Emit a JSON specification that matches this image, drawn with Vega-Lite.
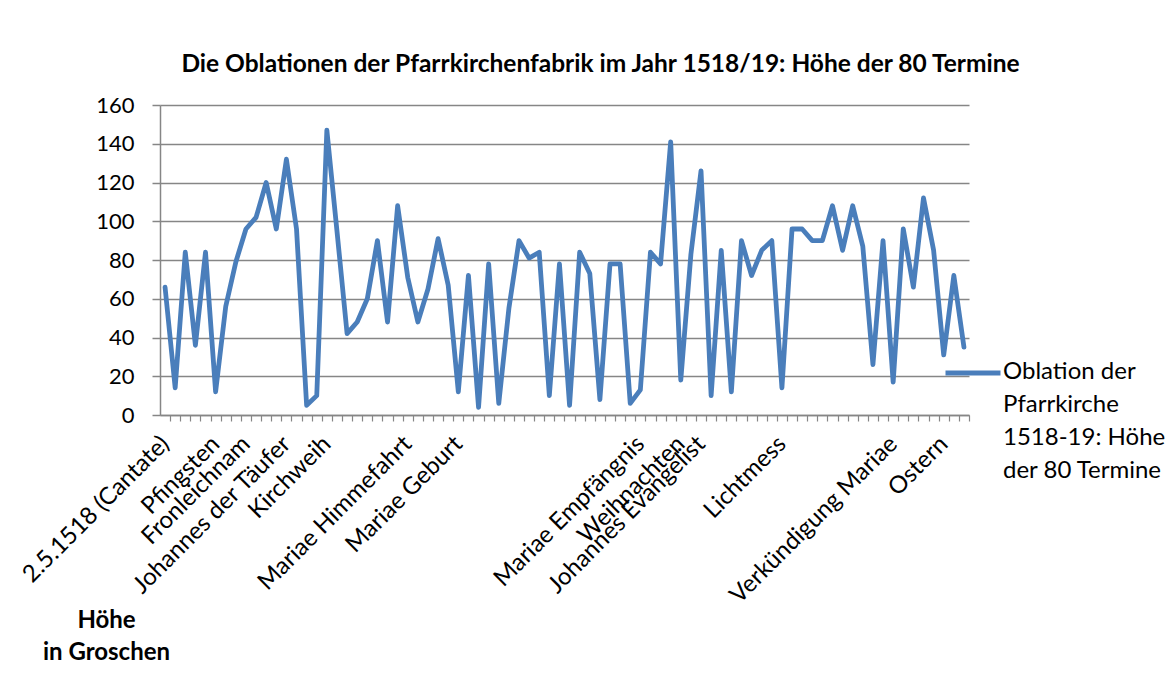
{
  "$schema": "https://vega.github.io/schema/vega-lite/v6.json",
  "width": 809,
  "height": 310,
  "autosize": {"type": "none"},
  "padding": {"left": 160, "top": 105, "right": 202, "bottom": 263},
  "background": "#ffffff",
  "config": {
    "font": "Lato",
    "view": {"stroke": null}
  },
  "title": {
    "text": "Die Oblationen der Pfarrkirchenfabrik im Jahr 1518/19: Höhe der 80 Termine",
    "font": "Lato",
    "fontSize": 24.5,
    "fontWeight": "bold",
    "color": "#000000",
    "anchor": "middle",
    "dx": 36,
    "offset": 17
  },
  "data": {
    "values": [
      {"nr": 1, "termin": "2.5.1518 (Cantate)", "oblation": 66, "reihe": "Oblation der|Pfarrkirche|1518-19: Höhe|der 80 Termine"},
      {"nr": 2, "termin": "#2", "oblation": 14, "reihe": "Oblation der|Pfarrkirche|1518-19: Höhe|der 80 Termine"},
      {"nr": 3, "termin": "#3", "oblation": 84, "reihe": "Oblation der|Pfarrkirche|1518-19: Höhe|der 80 Termine"},
      {"nr": 4, "termin": "#4", "oblation": 36, "reihe": "Oblation der|Pfarrkirche|1518-19: Höhe|der 80 Termine"},
      {"nr": 5, "termin": "#5", "oblation": 84, "reihe": "Oblation der|Pfarrkirche|1518-19: Höhe|der 80 Termine"},
      {"nr": 6, "termin": "Pfingsten", "oblation": 12, "reihe": "Oblation der|Pfarrkirche|1518-19: Höhe|der 80 Termine"},
      {"nr": 7, "termin": "#7", "oblation": 56, "reihe": "Oblation der|Pfarrkirche|1518-19: Höhe|der 80 Termine"},
      {"nr": 8, "termin": "#8", "oblation": 79, "reihe": "Oblation der|Pfarrkirche|1518-19: Höhe|der 80 Termine"},
      {"nr": 9, "termin": "Fronleichnam", "oblation": 96, "reihe": "Oblation der|Pfarrkirche|1518-19: Höhe|der 80 Termine"},
      {"nr": 10, "termin": "#10", "oblation": 102, "reihe": "Oblation der|Pfarrkirche|1518-19: Höhe|der 80 Termine"},
      {"nr": 11, "termin": "#11", "oblation": 120, "reihe": "Oblation der|Pfarrkirche|1518-19: Höhe|der 80 Termine"},
      {"nr": 12, "termin": "#12", "oblation": 96, "reihe": "Oblation der|Pfarrkirche|1518-19: Höhe|der 80 Termine"},
      {"nr": 13, "termin": "Johannes der Täufer", "oblation": 132, "reihe": "Oblation der|Pfarrkirche|1518-19: Höhe|der 80 Termine"},
      {"nr": 14, "termin": "#14", "oblation": 96, "reihe": "Oblation der|Pfarrkirche|1518-19: Höhe|der 80 Termine"},
      {"nr": 15, "termin": "#15", "oblation": 5, "reihe": "Oblation der|Pfarrkirche|1518-19: Höhe|der 80 Termine"},
      {"nr": 16, "termin": "#16", "oblation": 10, "reihe": "Oblation der|Pfarrkirche|1518-19: Höhe|der 80 Termine"},
      {"nr": 17, "termin": "Kirchweih", "oblation": 147, "reihe": "Oblation der|Pfarrkirche|1518-19: Höhe|der 80 Termine"},
      {"nr": 18, "termin": "#18", "oblation": 95, "reihe": "Oblation der|Pfarrkirche|1518-19: Höhe|der 80 Termine"},
      {"nr": 19, "termin": "#19", "oblation": 42, "reihe": "Oblation der|Pfarrkirche|1518-19: Höhe|der 80 Termine"},
      {"nr": 20, "termin": "#20", "oblation": 48, "reihe": "Oblation der|Pfarrkirche|1518-19: Höhe|der 80 Termine"},
      {"nr": 21, "termin": "#21", "oblation": 60, "reihe": "Oblation der|Pfarrkirche|1518-19: Höhe|der 80 Termine"},
      {"nr": 22, "termin": "#22", "oblation": 90, "reihe": "Oblation der|Pfarrkirche|1518-19: Höhe|der 80 Termine"},
      {"nr": 23, "termin": "#23", "oblation": 48, "reihe": "Oblation der|Pfarrkirche|1518-19: Höhe|der 80 Termine"},
      {"nr": 24, "termin": "#24", "oblation": 108, "reihe": "Oblation der|Pfarrkirche|1518-19: Höhe|der 80 Termine"},
      {"nr": 25, "termin": "Mariae Himmefahrt", "oblation": 71, "reihe": "Oblation der|Pfarrkirche|1518-19: Höhe|der 80 Termine"},
      {"nr": 26, "termin": "#26", "oblation": 48, "reihe": "Oblation der|Pfarrkirche|1518-19: Höhe|der 80 Termine"},
      {"nr": 27, "termin": "#27", "oblation": 65, "reihe": "Oblation der|Pfarrkirche|1518-19: Höhe|der 80 Termine"},
      {"nr": 28, "termin": "#28", "oblation": 91, "reihe": "Oblation der|Pfarrkirche|1518-19: Höhe|der 80 Termine"},
      {"nr": 29, "termin": "#29", "oblation": 67, "reihe": "Oblation der|Pfarrkirche|1518-19: Höhe|der 80 Termine"},
      {"nr": 30, "termin": "Mariae Geburt", "oblation": 12, "reihe": "Oblation der|Pfarrkirche|1518-19: Höhe|der 80 Termine"},
      {"nr": 31, "termin": "#31", "oblation": 72, "reihe": "Oblation der|Pfarrkirche|1518-19: Höhe|der 80 Termine"},
      {"nr": 32, "termin": "#32", "oblation": 4, "reihe": "Oblation der|Pfarrkirche|1518-19: Höhe|der 80 Termine"},
      {"nr": 33, "termin": "#33", "oblation": 78, "reihe": "Oblation der|Pfarrkirche|1518-19: Höhe|der 80 Termine"},
      {"nr": 34, "termin": "#34", "oblation": 6, "reihe": "Oblation der|Pfarrkirche|1518-19: Höhe|der 80 Termine"},
      {"nr": 35, "termin": "#35", "oblation": 55, "reihe": "Oblation der|Pfarrkirche|1518-19: Höhe|der 80 Termine"},
      {"nr": 36, "termin": "#36", "oblation": 90, "reihe": "Oblation der|Pfarrkirche|1518-19: Höhe|der 80 Termine"},
      {"nr": 37, "termin": "#37", "oblation": 81, "reihe": "Oblation der|Pfarrkirche|1518-19: Höhe|der 80 Termine"},
      {"nr": 38, "termin": "#38", "oblation": 84, "reihe": "Oblation der|Pfarrkirche|1518-19: Höhe|der 80 Termine"},
      {"nr": 39, "termin": "#39", "oblation": 10, "reihe": "Oblation der|Pfarrkirche|1518-19: Höhe|der 80 Termine"},
      {"nr": 40, "termin": "#40", "oblation": 78, "reihe": "Oblation der|Pfarrkirche|1518-19: Höhe|der 80 Termine"},
      {"nr": 41, "termin": "#41", "oblation": 5, "reihe": "Oblation der|Pfarrkirche|1518-19: Höhe|der 80 Termine"},
      {"nr": 42, "termin": "#42", "oblation": 84, "reihe": "Oblation der|Pfarrkirche|1518-19: Höhe|der 80 Termine"},
      {"nr": 43, "termin": "#43", "oblation": 73, "reihe": "Oblation der|Pfarrkirche|1518-19: Höhe|der 80 Termine"},
      {"nr": 44, "termin": "#44", "oblation": 8, "reihe": "Oblation der|Pfarrkirche|1518-19: Höhe|der 80 Termine"},
      {"nr": 45, "termin": "#45", "oblation": 78, "reihe": "Oblation der|Pfarrkirche|1518-19: Höhe|der 80 Termine"},
      {"nr": 46, "termin": "#46", "oblation": 78, "reihe": "Oblation der|Pfarrkirche|1518-19: Höhe|der 80 Termine"},
      {"nr": 47, "termin": "#47", "oblation": 6, "reihe": "Oblation der|Pfarrkirche|1518-19: Höhe|der 80 Termine"},
      {"nr": 48, "termin": "Mariae Empfängnis", "oblation": 13, "reihe": "Oblation der|Pfarrkirche|1518-19: Höhe|der 80 Termine"},
      {"nr": 49, "termin": "#49", "oblation": 84, "reihe": "Oblation der|Pfarrkirche|1518-19: Höhe|der 80 Termine"},
      {"nr": 50, "termin": "#50", "oblation": 78, "reihe": "Oblation der|Pfarrkirche|1518-19: Höhe|der 80 Termine"},
      {"nr": 51, "termin": "#51", "oblation": 141, "reihe": "Oblation der|Pfarrkirche|1518-19: Höhe|der 80 Termine"},
      {"nr": 52, "termin": "Weihnachten", "oblation": 18, "reihe": "Oblation der|Pfarrkirche|1518-19: Höhe|der 80 Termine"},
      {"nr": 53, "termin": "#53", "oblation": 83, "reihe": "Oblation der|Pfarrkirche|1518-19: Höhe|der 80 Termine"},
      {"nr": 54, "termin": "Johannes Evangelist", "oblation": 126, "reihe": "Oblation der|Pfarrkirche|1518-19: Höhe|der 80 Termine"},
      {"nr": 55, "termin": "#55", "oblation": 10, "reihe": "Oblation der|Pfarrkirche|1518-19: Höhe|der 80 Termine"},
      {"nr": 56, "termin": "#56", "oblation": 85, "reihe": "Oblation der|Pfarrkirche|1518-19: Höhe|der 80 Termine"},
      {"nr": 57, "termin": "#57", "oblation": 12, "reihe": "Oblation der|Pfarrkirche|1518-19: Höhe|der 80 Termine"},
      {"nr": 58, "termin": "#58", "oblation": 90, "reihe": "Oblation der|Pfarrkirche|1518-19: Höhe|der 80 Termine"},
      {"nr": 59, "termin": "#59", "oblation": 72, "reihe": "Oblation der|Pfarrkirche|1518-19: Höhe|der 80 Termine"},
      {"nr": 60, "termin": "#60", "oblation": 85, "reihe": "Oblation der|Pfarrkirche|1518-19: Höhe|der 80 Termine"},
      {"nr": 61, "termin": "#61", "oblation": 90, "reihe": "Oblation der|Pfarrkirche|1518-19: Höhe|der 80 Termine"},
      {"nr": 62, "termin": "Lichtmess", "oblation": 14, "reihe": "Oblation der|Pfarrkirche|1518-19: Höhe|der 80 Termine"},
      {"nr": 63, "termin": "#63", "oblation": 96, "reihe": "Oblation der|Pfarrkirche|1518-19: Höhe|der 80 Termine"},
      {"nr": 64, "termin": "#64", "oblation": 96, "reihe": "Oblation der|Pfarrkirche|1518-19: Höhe|der 80 Termine"},
      {"nr": 65, "termin": "#65", "oblation": 90, "reihe": "Oblation der|Pfarrkirche|1518-19: Höhe|der 80 Termine"},
      {"nr": 66, "termin": "#66", "oblation": 90, "reihe": "Oblation der|Pfarrkirche|1518-19: Höhe|der 80 Termine"},
      {"nr": 67, "termin": "#67", "oblation": 108, "reihe": "Oblation der|Pfarrkirche|1518-19: Höhe|der 80 Termine"},
      {"nr": 68, "termin": "#68", "oblation": 85, "reihe": "Oblation der|Pfarrkirche|1518-19: Höhe|der 80 Termine"},
      {"nr": 69, "termin": "#69", "oblation": 108, "reihe": "Oblation der|Pfarrkirche|1518-19: Höhe|der 80 Termine"},
      {"nr": 70, "termin": "#70", "oblation": 87, "reihe": "Oblation der|Pfarrkirche|1518-19: Höhe|der 80 Termine"},
      {"nr": 71, "termin": "#71", "oblation": 26, "reihe": "Oblation der|Pfarrkirche|1518-19: Höhe|der 80 Termine"},
      {"nr": 72, "termin": "#72", "oblation": 90, "reihe": "Oblation der|Pfarrkirche|1518-19: Höhe|der 80 Termine"},
      {"nr": 73, "termin": "Verkündigung Mariae", "oblation": 17, "reihe": "Oblation der|Pfarrkirche|1518-19: Höhe|der 80 Termine"},
      {"nr": 74, "termin": "#74", "oblation": 96, "reihe": "Oblation der|Pfarrkirche|1518-19: Höhe|der 80 Termine"},
      {"nr": 75, "termin": "#75", "oblation": 66, "reihe": "Oblation der|Pfarrkirche|1518-19: Höhe|der 80 Termine"},
      {"nr": 76, "termin": "#76", "oblation": 112, "reihe": "Oblation der|Pfarrkirche|1518-19: Höhe|der 80 Termine"},
      {"nr": 77, "termin": "#77", "oblation": 85, "reihe": "Oblation der|Pfarrkirche|1518-19: Höhe|der 80 Termine"},
      {"nr": 78, "termin": "Ostern", "oblation": 31, "reihe": "Oblation der|Pfarrkirche|1518-19: Höhe|der 80 Termine"},
      {"nr": 79, "termin": "#79", "oblation": 72, "reihe": "Oblation der|Pfarrkirche|1518-19: Höhe|der 80 Termine"},
      {"nr": 80, "termin": "#80", "oblation": 35, "reihe": "Oblation der|Pfarrkirche|1518-19: Höhe|der 80 Termine"}
    ]
  },
  "mark": {"type": "line", "strokeWidth": 4.8, "strokeCap": "round", "strokeJoin": "round"},
  "encoding": {
    "x": {
      "field": "termin",
      "type": "ordinal",
      "sort": null,
      "scale": {"type": "point", "padding": 0.5},
      "axis": {
        "title": null,
        "labelExpr": "indexof(datum.value, '#') == 0 ? '' : datum.value",
        "labelAngle": -45,
        "labelAlign": "right",
        "labelBaseline": "middle",
        "labelFont": "Lato",
        "labelFontSize": 24,
        "labelColor": "#000000",
        "labelPadding": 19,
        "labelOverlap": false,
        "labelLimit": 400,
        "tickOffset": 5.056,
        "labelOffset": -5.056,
        "tickSize": 6,
        "tickColor": "#868686",
        "tickWidth": 1.2,
        "domainColor": "#868686",
        "domainWidth": 1.5,
        "grid": false
      }
    },
    "y": {
      "field": "oblation",
      "type": "quantitative",
      "scale": {"domain": [0, 160]},
      "axis": {
        "values": [0, 20, 40, 60, 80, 100, 120, 140, 160],
        "title": ["Höhe", "in Groschen"],
        "titleAngle": 0,
        "titleAlign": "center",
        "titleBaseline": "middle",
        "titleX": -54,
        "titleY": 515,
        "titleFont": "Lato",
        "titleFontSize": 24,
        "titleFontWeight": "bold",
        "titleColor": "#000000",
        "titleLineHeight": 32,
        "labelFont": "Lato",
        "labelFontSize": 22,
        "labelColor": "#000000",
        "labelPadding": 18,
        "tickSize": 8,
        "tickColor": "#868686",
        "tickWidth": 1.5,
        "domainColor": "#868686",
        "domainWidth": 1.5,
        "grid": true,
        "gridColor": "#868686",
        "gridWidth": 1.5
      }
    },
    "color": {
      "field": "reihe",
      "type": "nominal",
      "scale": {"range": ["#4A7EBB"]},
      "legend": {
        "title": null,
        "orient": "none",
        "legendX": 783,
        "legendY": 238,
        "padding": 0,
        "symbolType": "stroke",
        "symbolSize": 3025,
        "symbolStrokeWidth": 4.8,
        "labelFont": "Lato",
        "labelFontSize": 24,
        "labelColor": "#000000",
        "labelOffset": 0,
        "labelLimit": 300,
        "labelBaseline": "top",
        "encode": {"labels": {"update": {"lineBreak": {"value": "|"}, "lineHeight": {"value": 33}, "dy": {"value": -13}}}}
      }
    }
  }
}
